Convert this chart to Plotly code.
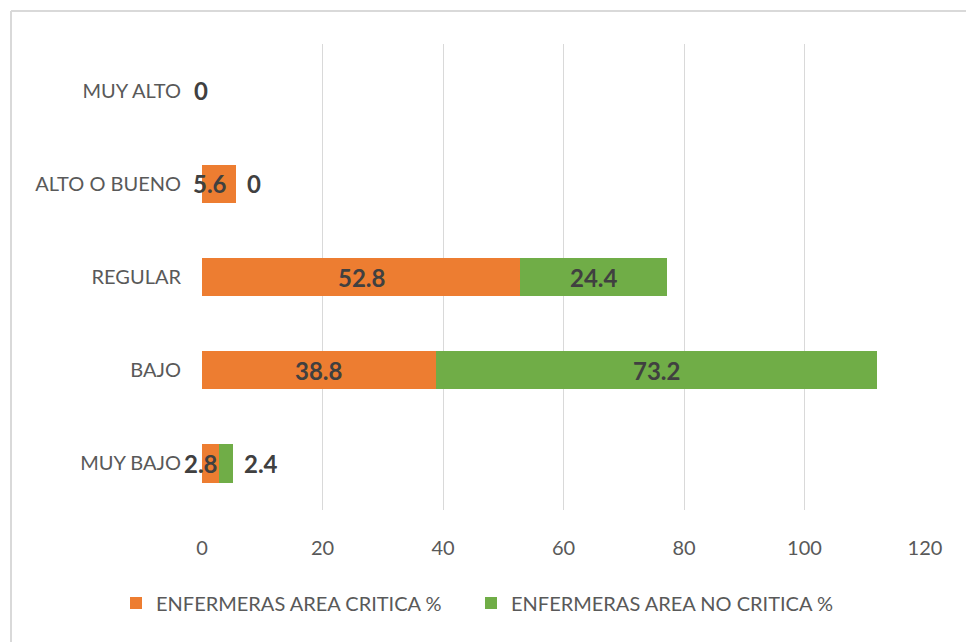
import plotly.graph_objects as go

categories = ["MUY BAJO", "BAJO", "REGULAR", "ALTO O BUENO", "MUY ALTO"]
critica = [2.8, 38.8, 52.8, 5.6, 0]
no_critica = [2.4, 73.2, 24.4, 0, 0]
series_names = ["ENFERMERAS AREA CRITICA %", "ENFERMERAS AREA NO CRITICA %"]
x_ticks = [0, 20, 40, 60, 80, 100, 120]

ORANGE = "#ED7D31"
GREEN = "#70AD47"
LABEL = "#404040"
FONT = "Lato"

fig = go.Figure()
fig.add_trace(go.Bar(y=categories, x=critica, orientation="h", name=series_names[0],
                     marker=dict(color=ORANGE, line=dict(width=0)), legend="legend"))
fig.add_trace(go.Bar(y=categories, x=no_critica, orientation="h", name=series_names[1],
                     marker=dict(color=GREEN, line=dict(width=0)), legend="legend2"))

ann = []
for cat, a, b in zip(categories, critica, no_critica):
    if a == 0 and b == 0:
        ann.append(dict(x=0, y=cat, text=f"{a:g}", showarrow=False, xanchor="center", xshift=-1))
        continue
    if a >= 10:
        ann.append(dict(x=a / 2, y=cat, text=f"{a:g}", showarrow=False, xanchor="center"))
    else:
        ann.append(dict(x=a / 2, y=cat, text=f"{a:g}", showarrow=False, xanchor="center", xshift=-9))
    if b >= 10:
        ann.append(dict(x=a + b / 2, y=cat, text=f"{b:g}", showarrow=False, xanchor="center"))
    else:
        ann.append(dict(x=a + b, y=cat, text=f"{b:g}", showarrow=False, xanchor="left", xshift=9))
for a_ in ann:
    a_["font"] = dict(family=FONT, size=24, color=LABEL, weight="bold")

leg_common = dict(orientation="h", xref="container", yref="container", xanchor="left",
                  y=1 - 603 / 642, yanchor="middle", itemwidth=30,
                  font=dict(family=FONT, size=20, color="#595959"))

fig.update_layout(
    barmode="stack",
    bargap=0.59,
    width=966, height=642,
    margin=dict(l=202, r=41, t=44, b=132, autoexpand=False),
    paper_bgcolor="white", plot_bgcolor="white",
    font=dict(family=FONT, color="#595959", size=20),
    annotations=ann,
    showlegend=True,
    legend=dict(x=116 / 966, **leg_common),
    legend2=dict(x=471 / 966, **leg_common),
    xaxis=dict(range=[0, 120], tickvals=x_ticks, showgrid=True, gridcolor="#D9D9D9",
               gridwidth=1, zeroline=False, showline=False, ticks="",
               ticklabelstandoff=24, tickfont=dict(size=20, color="#595959")),
    yaxis=dict(categoryorder="array", categoryarray=categories, showgrid=False,
               zeroline=False, showline=False, ticks="", ticklabelstandoff=20,
               tickfont=dict(size=20, color="#595959")),
)
top = 1 + (44 - 11) / 466
left = (11 - 202) / 723
fig.add_shape(type="line", xref="paper", yref="paper",
              x0=left, x1=(966 - 202) / 723, y0=top, y1=top,
              line=dict(color="#D9D9D9", width=2))
fig.add_shape(type="line", xref="paper", yref="paper",
              x0=left, x1=left, y0=top, y1=-(642 - 510) / 466,
              line=dict(color="#D9D9D9", width=2))

fig.write_html("out.html")
